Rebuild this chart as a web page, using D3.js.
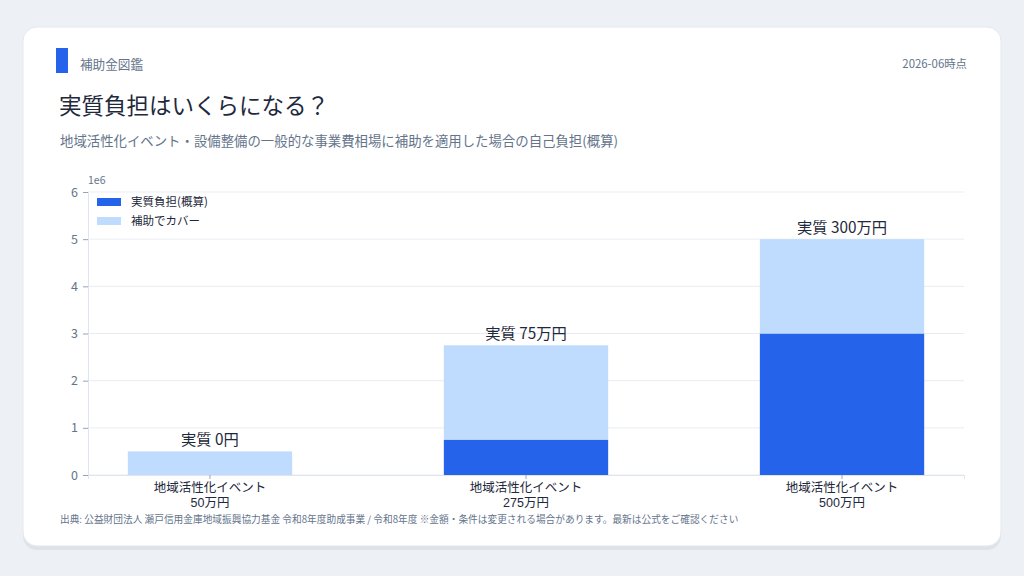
<!DOCTYPE html>
<html>
<head>
<meta charset="utf-8">
<script src="https://cdn.jsdelivr.net/npm/d3@7"></script>
<style>
  html, body { margin: 0; padding: 0; background: #edf1f6; }
  body { width: 1024px; height: 576px; overflow: hidden; font-family: "Noto Sans CJK JP", "Noto Sans", sans-serif; }
</style>
</head>
<body>
<div id="chart"></div>
<script>
// data
let categories = ["地域活性化イベント\n50万円", "地域活性化イベント\n275万円", "地域活性化イベント\n500万円"];
let selfPay = [0, 750000, 3000000];
let covered = [500000, 2000000, 2000000];
let topLabels = ["実質 0円", "実質 75万円", "実質 300万円"];
let yTicks = [0, 1, 2, 3, 4, 5, 6];
let seriesNames = ["実質負担(概算)", "補助でカバー"];

let width = 1024, height = 576;
let margin = { top: 192, right: 60, bottom: 101, left: 88 };

let svg = d3.select("#chart").append("svg")
  .attr("width", width)
  .attr("height", height);

// card
svg.append("rect")
  .attr("x", 23).attr("y", 31).attr("width", 978).attr("height", 519)
  .attr("rx", 14).attr("fill", "#dce3eb");
svg.append("rect")
  .attr("x", 23).attr("y", 27).attr("width", 978).attr("height", 519)
  .attr("rx", 14).attr("fill", "#ffffff").attr("stroke", "#e3e8ef");

// header
svg.append("rect").attr("x", 56).attr("y", 48).attr("width", 12).attr("height", 25).attr("fill", "#2563eb");
svg.append("text").attr("x", 80).attr("y", 69).text("補助金図鑑")
  .attr("font-size", "12.6px").attr("fill", "#64748b");
svg.append("text").attr("x", 967).attr("y", 68).attr("text-anchor", "end").text("2026-06時点")
  .attr("font-size", "11.4px").attr("fill", "#64748b");
svg.append("text").attr("x", 59).attr("y", 114).text("実質負担はいくらになる？")
  .attr("font-size", "22.5px").attr("fill", "#1e293b");
svg.append("text").attr("x", 60).attr("y", 146).text("地域活性化イベント・設備整備の一般的な事業費相場に補助を適用した場合の自己負担(概算)")
  .attr("font-size", "13.4px").attr("fill", "#64748b");

// scales
let x = d3.scaleBand()
  .domain(categories)
  .range([margin.left, width - margin.right])
  .paddingInner(0.48)
  .paddingOuter(0.126);

let y = d3.scaleLinear()
  .domain([0, 6000000])
  .range([height - margin.bottom, margin.top]);

// grid
svg.append("g").selectAll("line").data(yTicks).enter().append("line")
  .attr("x1", margin.left).attr("x2", width - margin.right)
  .attr("y1", function(d) { return y(d * 1e6); })
  .attr("y2", function(d) { return y(d * 1e6); })
  .attr("stroke", "#e9edf3").attr("stroke-width", 1);

// y axis
let yAxis = svg.append("g")
  .attr("transform", "translate(" + margin.left + ",0)")
  .call(d3.axisLeft(y).tickValues(yTicks.map(function(d) { return d * 1e6; }))
    .tickFormat(function(d) { return d / 1e6; }).tickSize(5).tickPadding(5));
yAxis.select(".domain").attr("stroke", "#dfe5ee");
yAxis.selectAll(".tick line").attr("stroke", "#94a3b8");
yAxis.selectAll(".tick text").attr("fill", "#64748b").attr("font-size", "12.5px")
  .attr("font-family", "'Noto Sans CJK JP', sans-serif");
svg.append("text").attr("x", margin.left).attr("y", 184).text("1e6")
  .attr("font-size", "10.5px").attr("fill", "#64748b");

// bars
let barG = svg.append("g");
barG.selectAll(".self").data(categories).enter().append("rect")
  .attr("x", function(d) { return x(d); })
  .attr("width", x.bandwidth())
  .attr("y", function(d, i) { return y(selfPay[i]); })
  .attr("height", function(d, i) { return y(0) - y(selfPay[i]); })
  .attr("fill", "#2563eb");
barG.selectAll(".cov").data(categories).enter().append("rect")
  .attr("x", function(d) { return x(d); })
  .attr("width", x.bandwidth())
  .attr("y", function(d, i) { return y(selfPay[i] + covered[i]); })
  .attr("height", function(d, i) { return y(selfPay[i]) - y(selfPay[i] + covered[i]); })
  .attr("fill", "#bfdbfe");

// x axis, two-line labels as separate texts
let xAxis = svg.append("g")
  .attr("transform", "translate(0," + y(0) + ")")
  .call(d3.axisBottom(x).tickSize(4).tickFormat(""));
xAxis.select(".domain").attr("stroke", "#dfe5ee");
xAxis.selectAll(".tick line").attr("stroke", "#94a3b8");
xAxis.selectAll(".tick").each(function(d) {
  let lines = d.split("\n");
  let tick = d3.select(this);
  lines.forEach(function(l, i) {
    tick.append("text")
      .attr("text-anchor", "middle").attr("fill", "#1e293b").attr("font-size", "12.5px")
      .attr("font-family", "'Liberation Sans', 'Noto Sans CJK JP', sans-serif")
      .attr("x", 0).attr("y", 17 + i * 15).text(l);
  });
});

// value labels
barG.selectAll(".lbl").data(categories).enter().append("text")
  .attr("x", function(d) { return x(d) + x.bandwidth() / 2; })
  .attr("y", function(d, i) { return y(selfPay[i] + covered[i]) - 6; })
  .attr("text-anchor", "middle")
  .attr("font-size", "15.3px").attr("fill", "#1e293b")
  .text(function(d, i) { return topLabels[i]; });

// legend
let legendColors = ["#2563eb", "#bfdbfe"];
let lg = svg.append("g").selectAll("g").data(seriesNames).enter().append("g")
  .attr("transform", function(d, i) { return "translate(97," + (198 + i * 19) + ")"; });
lg.append("rect").attr("width", 24).attr("height", 8)
  .attr("fill", function(d, i) { return legendColors[i]; });
lg.append("text").attr("x", 34).attr("y", 8).text(function(d) { return d; })
  .attr("font-size", "11.5px").attr("fill", "#1e293b");

// footer
svg.append("text").attr("x", 60).attr("y", 523)
  .text("出典: 公益財団法人 瀬戸信用金庫地域振興協力基金 令和8年度助成事業 / 令和8年度 ※金額・条件は変更される場合があります。最新は公式をご確認ください")
  .attr("font-size", "9.7px").attr("fill", "#64748b");
</script>
</body>
</html>
